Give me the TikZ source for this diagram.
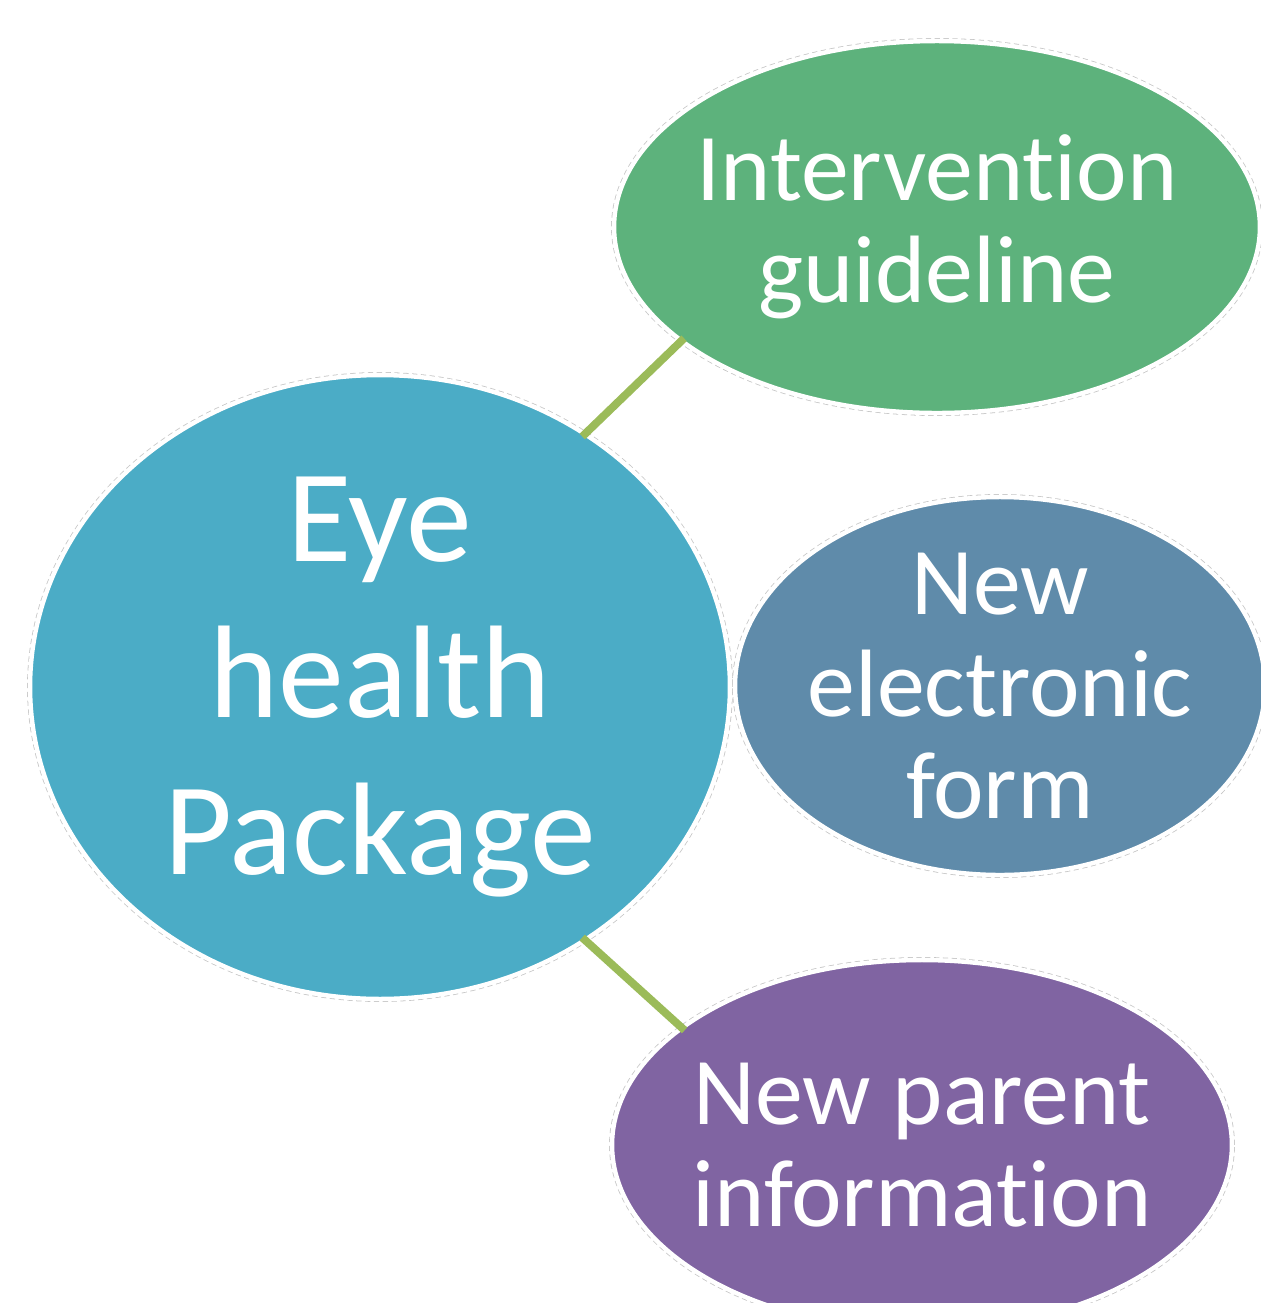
\documentclass[tikz,border=0pt]{standalone}
\usepackage{fontspec}
\setmainfont{Carlito}[Ligatures=NoCommon]
\usetikzlibrary{shapes.geometric}
\definecolor{colone}{RGB}{75,172,198}
\definecolor{coltwo}{RGB}{93,178,124}
\definecolor{colthree}{RGB}{95,139,170}
\definecolor{colfour}{RGB}{128,100,162}
\definecolor{colfive}{RGB}{155,187,89}
\tikzset{%
       bubble/.style = { ellipse, draw=white, line width=2.5pt, inner xsep=-1cm, inner ysep=-.5cm,
                         outer sep=0pt, text=white, align=center,
                         preaction={draw=gray!45, line width=3.4pt, densely dashed} },
     bigtext/.style = { font=\fontsize{75}{89}\selectfont },
   smalltext/.style = { font=\fontsize{54.5}{58}\selectfont },
        link/.style = { draw=colfive, line width=4.5pt, shorten <=-2pt, shorten >=-2pt }
}

\begin{document}
\begin{tikzpicture}[x=0.02cm, y=-0.02cm]

  \useasboundingbox (0,0) rectangle (1261,1303);
  \clip (0,0) rectangle (1261,1303);

  \node[bubble, bigtext, fill=colone, minimum width=14cm, minimum height=12.48cm]
       (eye) at (380,687) {Eye\\health\\Package};
  \node[bubble, smalltext, fill=coltwo, minimum width=12.92cm, minimum height=7.44cm]
       (guide) at (937,227) {Intervention\\guideline};
  \node[bubble, smalltext, fill=colthree, minimum width=10.6cm, minimum height=7.56cm]
       (form) at (1000,686) {New\\electronic\\form};
  \node[bubble, smalltext, fill=colfour, minimum width=12.4cm, minimum height=7.4cm]
       (parent) at (922,1145) {New parent\\information};

  \draw[link] (eye.51.6) -- (guide.204.3);
  \draw[link] (eye.-51.3) -- (parent.154.3);

\end{tikzpicture}
\end{document}
